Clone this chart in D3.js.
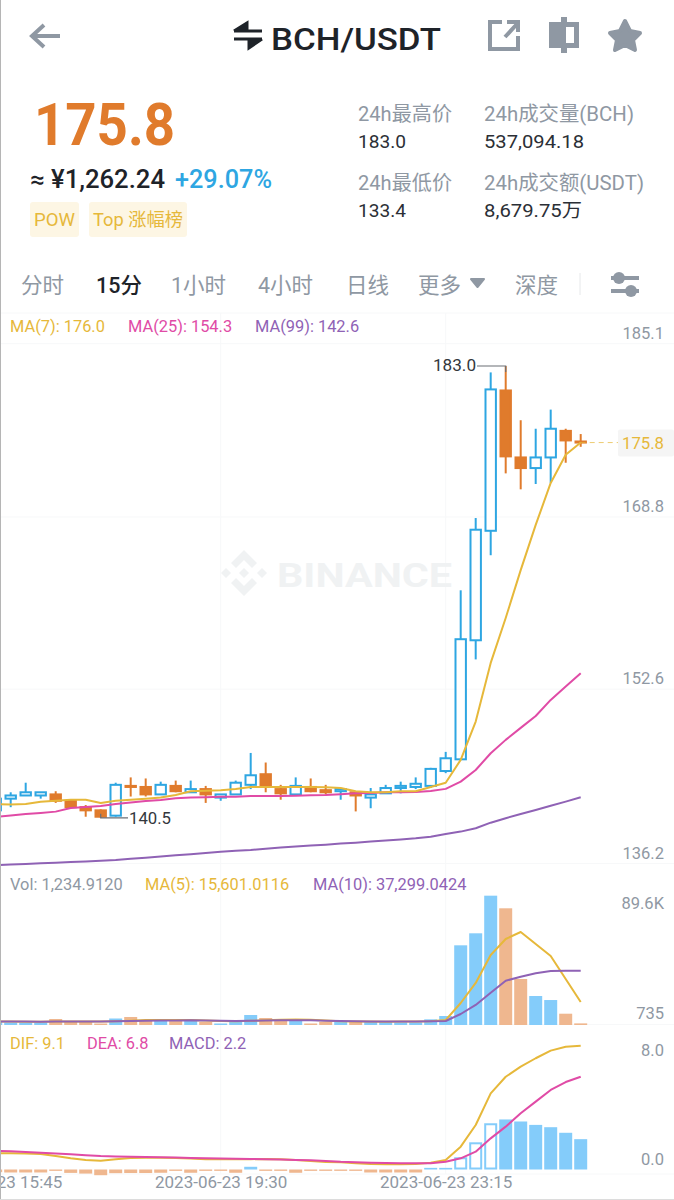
<!DOCTYPE html>
<html>
<head>
<meta charset="utf-8">
<script src="https://cdn.jsdelivr.net/npm/d3@7"></script>
<style>
    html, body { margin: 0; padding: 0; background: #fff; }
    svg { display: block; }
    text { font-family: Roboto, "Noto Sans CJK SC", sans-serif; }
</style>
</head>
<body>
<svg id="chart" width="674" height="1200"></svg>
<script>
// candles, oldest first
const opens = [141.2,142.3,142.6,142.6,142.7,142.1,141.5,141.2,140.7,143.5,143.4,142.7,143.5,142.9,143.2,142.4,142.7,143.6,144.6,143.2,142.7,143.4,143.1,143.0,142.9,142.4,142.8,143.3,143.4,143.5,144.9,146.0,157.2,167.5,180.7,174.4,173.4,174.4,176.9,175.9];
const closes = [142.3,142.6,142.9,142.9,142.1,141.5,141.2,140.6,143.6,143.4,142.7,143.6,143.0,143.2,142.7,142.7,143.8,144.5,143.4,142.8,143.5,143.0,142.9,143.2,142.6,142.7,143.3,143.5,143.7,145.1,146.1,157.3,167.6,180.8,174.5,173.4,174.4,177.1,176.0,175.8];
const highs = [142.5,142.9,143.8,142.9,143.0,142.1,141.7,141.3,143.8,144.3,144.2,143.9,144.0,144.0,143.5,142.7,144.0,146.6,145.7,143.6,144.3,144.2,143.6,143.2,143.0,143.3,143.6,143.9,144.3,145.2,146.7,161.9,168.7,182.4,183.0,177.9,177.1,178.9,177.1,176.6];
const lows = [141.1,141.5,142.6,142.3,141.9,141.4,140.6,140.5,140.6,142.5,142.5,142.7,142.9,142.9,141.9,142.1,142.7,143.2,142.9,142.2,142.6,142.9,142.7,142.2,141.1,141.4,142.8,142.8,143.2,143.3,144.7,146.0,155.4,165.2,172.9,171.4,171.9,172.0,173.9,175.4];
const ma7 = [141.8,141.74,141.8,142.0,142.1,142.2,142.2,141.9,142.1,142.2,142.3,142.4,142.65,143.0,143.05,143.1,143.2,143.4,143.4,143.4,143.4,143.4,143.38,143.3,143.0,142.9,142.9,143.0,143.0,143.4,143.8,145.95,149.55,155.07,159.3,163.8,168.05,172.0,174.65,175.8];
const ma25 = [140.58,140.72,140.86,140.96,141.08,141.43,141.52,141.62,141.8,141.93,142.09,142.18,142.34,142.4,142.43,142.49,142.49,142.56,142.56,142.56,142.58,142.62,142.65,142.72,142.81,142.84,142.9,142.9,142.93,143.03,143.22,143.9,145.0,146.57,147.83,148.96,150.08,151.59,152.84,154.1];
const ma99 = [136.03,136.11,136.16,136.22,136.28,136.33,136.39,136.46,136.53,136.65,136.75,136.86,136.97,137.08,137.19,137.3,137.41,137.47,137.59,137.7,137.8,137.89,137.97,138.07,138.16,138.26,138.36,138.46,138.57,138.72,138.98,139.2,139.52,140.04,140.46,140.86,141.24,141.64,142.02,142.43];

// volume panel
const volumes = [2350,1950,1950,1950,4775,2350,2350,1140,5180,6400,3970,3160,3970,3160,2350,1140,3160,8000,5580,4775,3970,1140,2350,2350,3160,3160,3160,2100,2100,4500,7200,64300,74000,104400,94200,37100,23350,20100,9050,1235];
const volMa5 = [2900,2700,2600,2500,2700,2800,2800,2800,3000,3400,3900,3900,4000,4000,3600,3200,2900,3300,3700,4100,4300,4100,3500,2900,2700,2700,2600,2700,2700,3000,3967,17700,33900,56500,69400,75070,65400,55700,37100,18500];
const volMa10 = [2800,2700,2700,2600,2700,2700,2700,2800,2900,3100,3400,3500,3600,3700,3500,3300,3100,3300,3500,3700,3800,3700,3400,3100,2900,2800,2700,2700,2700,2900,3160,8800,16100,26000,35700,38950,41700,43550,43800,43800];

// macd panel
const dif = [1.19,1.19,1.18,1.14,0.99,0.82,0.7,0.65,0.75,0.85,0.87,0.86,0.85,0.81,0.75,0.75,0.75,0.76,0.77,0.75,0.7,0.63,0.55,0.53,0.46,0.4,0.39,0.38,0.4,0.5,0.7,1.68,3.27,5.6,6.82,7.56,8.18,8.74,9.03,9.1];
const dea = [1.38,1.34,1.29,1.24,1.18,1.12,1.05,0.99,0.96,0.94,0.92,0.9,0.88,0.85,0.82,0.81,0.79,0.77,0.76,0.74,0.7,0.68,0.63,0.57,0.54,0.5,0.48,0.46,0.46,0.46,0.57,0.82,1.31,2.29,3.15,4.13,4.99,5.85,6.43,6.82];
const hist = [-0.2,-0.22,-0.22,-0.22,-0.1,-0.25,-0.3,-0.42,-0.27,-0.26,-0.26,-0.24,-0.1,-0.24,-0.1,-0.1,-0.24,0.2,-0.1,-0.1,-0.24,-0.1,-0.1,-0.1,-0.1,-0.22,-0.22,-0.22,-0.22,0.12,0.12,0.9,2.0,3.4,3.68,3.53,3.28,3.11,2.7,2.23];
const hollowHist = [8, 31, 32, 33];

// axes
const priceTicks = [136.2, 152.6, 168.8, 185.1];
const volTicks = [735, 89600];
const macdTicks = [0, 8];
const timeTickIndex = [0, 15, 30];
const timeTickLabels = ['2023-06-23 15:45', '2023-06-23 19:30', '2023-06-23 23:15'];
const tabs = ['分时', '15分', '1小时', '4小时', '日线', '更多', '深度'];

const UP = '#2ea6e2', DOWN = '#e07b2c', UP_SOFT = '#84ccfa', DOWN_SOFT = '#efb78f';
const GOLD = '#e6b83a', PINK = '#e04ba6', PURPLE = '#8f62b5', GRAY = '#8f98a3', DARK = '#1e2329', GRID = '#f7f8f9';

const svg = d3.select('#chart');
const indices = d3.range(opens.length);

const x = d3.scaleLinear().domain([0, 39]).range([-4.3, 580.7]);
const yPrice = d3.scaleLinear().domain([136.2, 185.1]).range([863.5, 343.7]);
const yVol = d3.scaleLinear().domain([735, 89600]).range([1024, 914]);
const yMacd = d3.scaleLinear().domain([0, 8]).range([1169.5, 1060.7]);

function label(parent, px, py, str, size, fill, opts) {
    opts = opts || {};
    const t = parent.append('text')
        .attr('x', px).attr('y', py)
        .attr('font-size', size).attr('fill', fill)
        .attr('font-weight', opts.weight || 400)
        .attr('text-anchor', opts.anchor || 'start')
        .text(str);
    if (opts.width) t.attr('textLength', opts.width).attr('lengthAdjust', 'spacingAndGlyphs');
    return t;
}

// ---- header ----
const head = svg.append('g');
head.append('path').attr('d', 'M60 36H33M44 25L32 36L44 47').attr('fill', 'none')
    .attr('stroke', GRAY).attr('stroke-width', 4);
head.append('path').attr('d', 'M234 31H262M234 31L247 23V31M262 39H234M262 39L249 48V39')
    .attr('fill', DARK).attr('stroke', DARK).attr('stroke-width', 3);
label(head, 271, 50, 'BCH/USDT', 32, DARK, { weight: 500, width: 170 });
head.append('path').attr('d', 'M502 22H490V49H518V36M505 37L517 24M507 22H518V32').attr('fill', 'none')
    .attr('stroke', GRAY).attr('stroke-width', 4);
head.append('rect').attr('x', 549).attr('y', 22).attr('width', 30).attr('height', 26).attr('fill', GRAY);
head.append('rect').attr('x', 561).attr('y', 17).attr('width', 6).attr('height', 36).attr('fill', GRAY);
head.append('rect').attr('x', 566).attr('y', 27).attr('width', 8).attr('height', 16).attr('fill', '#fff');
head.append('path').attr('d', 'M625 21L630 31L640 33L633 40L635 50L625 45L615 50L617 40L610 33L620 31Z')
    .attr('fill', GRAY).attr('stroke', GRAY).attr('stroke-width', 4).attr('stroke-linejoin', 'round');

label(head, 34, 145, '175.8', 59, DOWN, { weight: 700, width: 141 });
label(head, 30, 188, '≈ ¥1,262.24', 25, DARK, { weight: 500, width: 135 });
label(head, 175, 188, '+29.07%', 25, UP, { weight: 500, width: 97 });

head.append('rect').attr('x', 30).attr('y', 202).attr('width', 49).attr('height', 35).attr('rx', 3).attr('fill', '#fdf6e4');
head.append('rect').attr('x', 89).attr('y', 202).attr('width', 98).attr('height', 35).attr('rx', 3).attr('fill', '#fdf6e4');
label(head, 34, 226, 'POW', 18, GOLD, { width: 41 });
label(head, 93, 226, 'Top 涨幅榜', 18, GOLD, { width: 90 });

const STAT = '#2b2f36';
label(head, 358, 121, '24h最高价', 20, GRAY, { width: 94 });
label(head, 358, 148, '183.0', 19, STAT, { width: 48 });
label(head, 358, 190, '24h最低价', 20, GRAY, { width: 94 });
label(head, 358, 217, '133.4', 19, STAT, { width: 48 });
label(head, 484, 121, '24h成交量(BCH)', 20, GRAY, { width: 150 });
label(head, 484, 148, '537,094.18', 19, STAT, { width: 100 });
label(head, 484, 190, '24h成交额(USDT)', 20, GRAY, { width: 160 });
label(head, 484, 217, '8,679.75万', 19, STAT, { width: 98 });

// ---- tabs ----
const tabX = [21, 96, 171, 258, 346, 418, 515];
tabs.forEach((t, i) => {
    label(head, tabX[i], 293, t, 21.5, i === 1 ? DARK : GRAY, { weight: i === 1 ? 500 : 400 });
});
head.append('path').attr('d', 'M471 279H484L477.5 287Z').attr('fill', GRAY)
    .attr('stroke', GRAY).attr('stroke-width', 2).attr('stroke-linejoin', 'round');
head.append('line').attr('x1', 580).attr('x2', 580).attr('y1', 273).attr('y2', 295).attr('stroke', '#e6e8ea');
[[278, 619], [291, 631]].forEach(d => {
    head.append('line').attr('x1', 611).attr('x2', 639).attr('y1', d[0]).attr('y2', d[0]).attr('stroke', GRAY).attr('stroke-width', 4);
    head.append('circle').attr('cx', d[1]).attr('cy', d[0]).attr('r', 6).attr('fill', GRAY);
});

// ---- grid ----
const grid = svg.append('g').attr('stroke', GRID).attr('stroke-width', 1);
[313, 1024.5, 1174].forEach(py => grid.append('line').attr('x1', 0).attr('x2', 674).attr('y1', py).attr('y2', py));
priceTicks.forEach(v => grid.append('line').attr('x1', 0).attr('x2', 674).attr('y1', yPrice(v)).attr('y2', yPrice(v)));
timeTickIndex.forEach(i => grid.append('line').attr('x1', x(i)).attr('x2', x(i)).attr('y1', 313).attr('y2', 1174));

// ---- watermark ----
const mark = svg.append('g').attr('transform', 'translate(244,573)').attr('fill', '#f0f2f3');
mark.append('path').attr('d', 'M0 -23L13 -10L8 -5L0 -13L-8 -5L-13 -10Z');
mark.append('path').attr('d', 'M0 23L13 10L8 5L0 13L-8 5L-13 10Z');
mark.append('path').attr('d', 'M0 -5L5 0L0 5L-5 0Z');
mark.append('path').attr('d', 'M-18 -5L-13 0L-18 5L-23 0Z');
mark.append('path').attr('d', 'M18 -5L23 0L18 5L13 0Z');
label(mark, 33, 14, 'BINANCE', 33, '#f0f2f3', { weight: 700, width: 175 });

// ---- candles ----
const candles = svg.append('g').selectAll('g').data(indices).enter().append('g');
candles.append('line')
    .attr('x1', i => x(i)).attr('x2', i => x(i))
    .attr('y1', i => yPrice(highs[i])).attr('y2', i => yPrice(lows[i]))
    .attr('stroke', i => closes[i] >= opens[i] ? UP : DOWN)
    .attr('stroke-width', 2);
candles.append('rect')
    .attr('x', i => x(i) - 5.2).attr('width', 10.4)
    .attr('y', i => yPrice(Math.max(opens[i], closes[i])))
    .attr('height', i => Math.max(1, Math.abs(yPrice(opens[i]) - yPrice(closes[i]))))
    .attr('fill', i => closes[i] >= opens[i] ? '#fff' : DOWN)
    .attr('stroke', i => closes[i] >= opens[i] ? UP : DOWN)
    .attr('stroke-width', 2);

// ---- ma lines ----
function drawLine(values, scale, color, width) {
    const line = d3.line().x((d, i) => x(i)).y(d => scale(d));
    svg.append('path').datum(values).attr('d', line)
        .attr('fill', 'none').attr('stroke', color).attr('stroke-width', width || 2).attr('stroke-linejoin', 'round');
}
drawLine(ma99, yPrice, PURPLE);
drawLine(ma25, yPrice, PINK);
drawLine(ma7, yPrice, GOLD);

// high / low markers
const hiI = highs.indexOf(d3.max(highs)), loI = lows.indexOf(d3.min(lows));
svg.append('path').attr('d', `M477 ${yPrice(highs[hiI])}H${x(hiI)}V${yPrice(highs[hiI]) + 6}`)
    .attr('fill', 'none').attr('stroke', '#6b6f75').attr('stroke-width', 1.2);
label(svg, 433, yPrice(highs[hiI]) + 5, d3.format('.1f')(highs[hiI]), 16, '#33373c', { width: 43 });
svg.append('path').attr('d', `M${x(loI)} ${yPrice(lows[loI]) - 4}V${yPrice(lows[loI])}H128`)
    .attr('fill', 'none').attr('stroke', '#6b6f75').attr('stroke-width', 1.2);
label(svg, 129, yPrice(lows[loI]) + 6, d3.format('.1f')(lows[loI]), 16, '#33373c', { width: 42 });

// last price tag
const lastY = yPrice(closes[39]);
svg.append('line').attr('x1', x(39)).attr('x2', 618).attr('y1', lastY).attr('y2', lastY)
    .attr('stroke', GOLD).attr('stroke-width', 1).attr('stroke-dasharray', '5,4').attr('opacity', 0.7);
svg.append('rect').attr('x', 618).attr('y', lastY - 13).attr('width', 56).attr('height', 27).attr('rx', 2).attr('fill', '#f5f5f5');
label(svg, 622, lastY + 6.5, d3.format('.1f')(closes[39]), 16.5, GOLD, { width: 42 });

// ---- volume bars ----
svg.append('g').selectAll('rect').data(indices).enter().append('rect')
    .attr('x', i => x(i) - 6.5).attr('width', 13)
    .attr('y', i => yVol(volumes[i]))
    .attr('height', i => yVol(735) + 1 - yVol(volumes[i]))
    .attr('fill', i => closes[i] >= opens[i] ? UP_SOFT : DOWN_SOFT);
drawLine(volMa5, yVol, GOLD);
drawLine(volMa10, yVol, PURPLE);

// ---- macd bars ----
svg.append('g').selectAll('rect').data(indices).enter().append('rect')
    .each(function(i) {
        const hollow = hollowHist.includes(i);
        const color = hist[i] >= 0 ? UP_SOFT : DOWN_SOFT;
        const inset = hollow ? 1 : 0;
        d3.select(this)
            .attr('x', x(i) - 6.5 + inset).attr('width', 13 - 2 * inset)
            .attr('y', Math.min(yMacd(hist[i]), yMacd(0)) + inset)
            .attr('height', Math.max(1, Math.abs(yMacd(hist[i]) - yMacd(0)) - 2 * inset))
            .attr('fill', hollow ? '#fff' : color)
            .attr('stroke', hollow ? color : 'none')
            .attr('stroke-width', hollow ? 2 : 0);
    });
drawLine(dif, yMacd, GOLD);
drawLine(dea, yMacd, PINK);

// ---- axes ----
function rightAxis(scale, ticks, fmt) {
    const g = svg.append('g').attr('transform', 'translate(664,0)')
        .call(d3.axisRight(scale).tickValues(ticks).tickSize(0).tickPadding(0).tickFormat(fmt));
    g.select('.domain').remove();
    g.selectAll('text').attr('text-anchor', 'end').attr('dy', '-0.33em')
        .attr('font-family', 'Roboto').attr('font-size', 16.5).attr('fill', GRAY);
}
rightAxis(yPrice, priceTicks, d3.format('.1f'));
rightAxis(yVol, volTicks, d => d >= 1000 ? d3.format('.1f')(d / 1000) + 'K' : String(d));
rightAxis(yMacd, macdTicks, d3.format('.1f'));

const timeAxis = svg.append('g').attr('transform', 'translate(0,1176)')
    .call(d3.axisBottom(x).tickValues(timeTickIndex).tickSize(0).tickPadding(0).tickFormat((d, i) => timeTickLabels[i]));
timeAxis.select('.domain').remove();
timeAxis.selectAll('text').attr('font-family', 'Roboto').attr('font-size', 17).attr('fill', GRAY);

// ---- legends ----
const LEGEND = 16.4;
label(svg, 10, 332, 'MA(7): 176.0', LEGEND, GOLD);
label(svg, 128, 332, 'MA(25): 154.3', LEGEND, PINK);
label(svg, 255, 332, 'MA(99): 142.6', LEGEND, PURPLE);
label(svg, 10, 890, 'Vol: 1,234.9120', LEGEND, GRAY);
label(svg, 145, 890, 'MA(5): 15,601.0116', LEGEND, GOLD);
label(svg, 313, 890, 'MA(10): 37,299.0424', LEGEND, PURPLE);
label(svg, 10, 1049, 'DIF: 9.1', LEGEND, GOLD);
label(svg, 87, 1049, 'DEA: 6.8', LEGEND, PINK);
label(svg, 169, 1049, 'MACD: 2.2', LEGEND, PURPLE);

// screen edges
svg.append('line').attr('x1', 0.5).attr('x2', 0.5).attr('y1', 0).attr('y2', 1200).attr('stroke', '#b5b5b5');
svg.append('line').attr('x1', 0).attr('x2', 674).attr('y1', 1199.5).attr('y2', 1199.5).attr('stroke', '#dcdcdc');
</script>
</body>
</html>
